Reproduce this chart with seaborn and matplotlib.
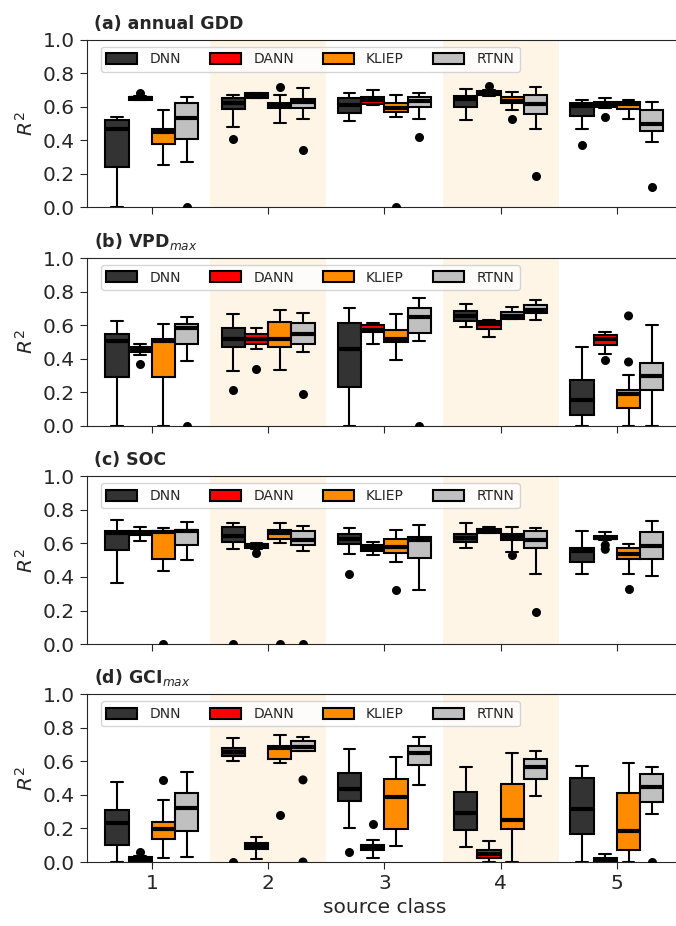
import pandas as pd
import numpy as np
import matplotlib
matplotlib.use('Agg')
import matplotlib.pyplot as plt
import seaborn as sns
from matplotlib.patches import Patch

# Categories
classes = ['1', '2', '3', '4', '5']
methods = ['DNN', 'DANN', 'KLIEP', 'RTNN']
colors = ['#333333', '#ff0000', '#ff8c00', '#c0c0c0']
panel_titles = ['(a) annual GDD', r'(b) VPD$_{max}$', '(c) SOC', r'(d) GCI$_{max}$']

# Estimated box values per source class: [whisker low, q1, median, q3, whisker high]
gdd_dnn = [[0.00, 0.24, 0.47, 0.52, 0.54], [0.48, 0.585, 0.62, 0.65, 0.67], [0.515, 0.565, 0.61, 0.65, 0.685],
           [0.52, 0.60, 0.645, 0.665, 0.705], [0.47, 0.545, 0.605, 0.625, 0.64]]
gdd_dann = [[0.64, 0.643, 0.65, 0.657, 0.665], [0.65, 0.655, 0.668, 0.68, 0.685], [0.61, 0.615, 0.64, 0.66, 0.70],
            [0.665, 0.672, 0.685, 0.695, 0.70], [0.595, 0.60, 0.615, 0.63, 0.655]]
gdd_kliep = [[0.255, 0.38, 0.45, 0.465, 0.58], [0.505, 0.59, 0.61, 0.625, 0.67], [0.54, 0.57, 0.595, 0.62, 0.67],
             [0.58, 0.62, 0.635, 0.66, 0.69], [0.53, 0.585, 0.615, 0.63, 0.64]]
gdd_rtnn = [[0.27, 0.405, 0.535, 0.62, 0.66], [0.53, 0.59, 0.63, 0.645, 0.71], [0.53, 0.60, 0.635, 0.66, 0.68],
            [0.47, 0.555, 0.615, 0.67, 0.72], [0.39, 0.455, 0.50, 0.58, 0.63]]

vpd_dnn = [[0.00, 0.29, 0.505, 0.545, 0.625], [0.325, 0.47, 0.52, 0.585, 0.665], [0.00, 0.23, 0.455, 0.615, 0.70],
           [0.59, 0.625, 0.655, 0.685, 0.725], [0.00, 0.065, 0.155, 0.27, 0.47]]
vpd_dann = [[0.42, 0.44, 0.452, 0.47, 0.49], [0.46, 0.49, 0.52, 0.545, 0.58], [0.485, 0.56, 0.572, 0.60, 0.61],
            [0.53, 0.578, 0.605, 0.625, 0.63], [0.43, 0.482, 0.515, 0.54, 0.557]]
vpd_kliep = [[0.00, 0.29, 0.505, 0.52, 0.605], [0.33, 0.47, 0.52, 0.62, 0.69], [0.39, 0.497, 0.52, 0.57, 0.665],
             [0.635, 0.638, 0.657, 0.68, 0.71], [0.00, 0.105, 0.19, 0.21, 0.30]]
vpd_rtnn = [[0.385, 0.487, 0.58, 0.607, 0.647], [0.44, 0.49, 0.545, 0.612, 0.675], [0.505, 0.55, 0.65, 0.705, 0.76],
            [0.63, 0.67, 0.69, 0.72, 0.75], [0.00, 0.21, 0.295, 0.375, 0.60]]

soc_dnn = [[0.365, 0.56, 0.665, 0.675, 0.74], [0.565, 0.61, 0.645, 0.70, 0.72], [0.54, 0.595, 0.628, 0.655, 0.69],
           [0.575, 0.61, 0.632, 0.655, 0.72], [0.415, 0.49, 0.555, 0.575, 0.675]]
soc_dann = [[0.615, 0.648, 0.665, 0.675, 0.70], [0.565, 0.575, 0.585, 0.595, 0.60], [0.53, 0.555, 0.575, 0.59, 0.61],
            [0.66, 0.665, 0.675, 0.688, 0.70], [0.62, 0.627, 0.635, 0.642, 0.67]]
soc_kliep = [[0.435, 0.505, 0.67, 0.675, 0.69], [0.60, 0.628, 0.665, 0.68, 0.72], [0.49, 0.545, 0.58, 0.625, 0.68],
             [0.55, 0.62, 0.638, 0.658, 0.70], [0.42, 0.505, 0.54, 0.575, 0.595]]
soc_rtnn = [[0.50, 0.59, 0.672, 0.68, 0.73], [0.555, 0.593, 0.618, 0.672, 0.705], [0.325, 0.515, 0.62, 0.64, 0.71],
            [0.415, 0.57, 0.622, 0.675, 0.69], [0.405, 0.505, 0.585, 0.67, 0.735]]

gci_dnn = [[0.00, 0.10, 0.23, 0.31, 0.48], [0.60, 0.632, 0.655, 0.68, 0.74], [0.20, 0.365, 0.435, 0.53, 0.675],
           [0.09, 0.19, 0.295, 0.415, 0.565], [0.00, 0.165, 0.315, 0.50, 0.575]]
gci_dann = [[0.00, 0.008, 0.02, 0.028, 0.035], [0.02, 0.08, 0.095, 0.115, 0.147], [0.026, 0.072, 0.087, 0.10, 0.13],
            [0.00, 0.022, 0.045, 0.072, 0.127], [0.00, 0.003, 0.01, 0.022, 0.05]]
gci_kliep = [[0.022, 0.135, 0.195, 0.24, 0.37], [0.59, 0.612, 0.68, 0.69, 0.755], [0.095, 0.195, 0.385, 0.495, 0.625],
             [0.00, 0.195, 0.25, 0.465, 0.65], [0.00, 0.072, 0.185, 0.41, 0.59]]
gci_rtnn = [[0.032, 0.185, 0.325, 0.41, 0.54], [0.66, 0.665, 0.685, 0.72, 0.745], [0.46, 0.58, 0.648, 0.69, 0.745],
            [0.395, 0.493, 0.565, 0.615, 0.66], [0.285, 0.36, 0.445, 0.525, 0.565]]

# Outliers: (source class, method, R2)
gdd_fliers = [('1', 'DANN', 0.68), ('1', 'RTNN', 0.0), ('2', 'DNN', 0.405), ('2', 'KLIEP', 0.715),
              ('2', 'RTNN', 0.34), ('3', 'KLIEP', 0.0), ('3', 'RTNN', 0.42), ('4', 'DANN', 0.725),
              ('4', 'KLIEP', 0.53), ('4', 'RTNN', 0.185), ('5', 'DNN', 0.37), ('5', 'DANN', 0.54),
              ('5', 'RTNN', 0.12)]
vpd_fliers = [('1', 'DANN', 0.37), ('1', 'RTNN', 0.0), ('2', 'DNN', 0.21), ('2', 'DANN', 0.34),
              ('2', 'RTNN', 0.19), ('3', 'RTNN', 0.0), ('5', 'DANN', 0.39), ('5', 'KLIEP', 0.655),
              ('5', 'KLIEP', 0.38)]
soc_fliers = [('1', 'KLIEP', 0.0), ('2', 'DNN', 0.0), ('2', 'DANN', 0.545), ('2', 'KLIEP', 0.0),
              ('2', 'RTNN', 0.0), ('3', 'DNN', 0.415), ('3', 'KLIEP', 0.325), ('4', 'KLIEP', 0.53),
              ('4', 'RTNN', 0.19), ('5', 'DANN', 0.59), ('5', 'DANN', 0.565), ('5', 'KLIEP', 0.33)]
gci_fliers = [('1', 'DANN', 0.06), ('1', 'KLIEP', 0.49), ('2', 'DNN', 0.0), ('2', 'KLIEP', 0.28),
              ('2', 'RTNN', 0.49), ('2', 'RTNN', 0.0), ('3', 'DNN', 0.06), ('3', 'DANN', 0.228),
              ('5', 'RTNN', 0.0)]

panels = [
    (dict(DNN=gdd_dnn, DANN=gdd_dann, KLIEP=gdd_kliep, RTNN=gdd_rtnn), gdd_fliers),
    (dict(DNN=vpd_dnn, DANN=vpd_dann, KLIEP=vpd_kliep, RTNN=vpd_rtnn), vpd_fliers),
    (dict(DNN=soc_dnn, DANN=soc_dann, KLIEP=soc_kliep, RTNN=soc_rtnn), soc_fliers),
    (dict(DNN=gci_dnn, DANN=gci_dann, KLIEP=gci_kliep, RTNN=gci_rtnn), gci_fliers),
]

sns.set_style('ticks')
plt.rcParams['font.family'] = ['DejaVu Sans']
palette = dict(zip(methods, colors))

fig = plt.figure(figsize=(6.76, 9.26), dpi=100)
bottoms = [0.7761, 0.5403, 0.3045, 0.0691]

for i, (boxes, fliers) in enumerate(panels):
    ax = fig.add_axes([0.1283, bottoms[i], 0.8806, 0.181])

    rows = []
    for m in methods:
        for c, vals in zip(classes, boxes[m]):
            for v in vals:
                rows.append({'cls': c, 'method': m, 'val': v})
    df = pd.DataFrame(rows)
    fl = pd.DataFrame(fliers, columns=['cls', 'method', 'val'])

    # shaded source classes 2 and 4
    for x0 in [0.5, 2.5]:
        ax.axvspan(x0, x0 + 1, color='#fef5e7', zorder=0, lw=0)

    sns.boxplot(data=df, x='cls', y='val', hue='method', order=classes, hue_order=methods,
                palette=palette, saturation=1, width=0.8, whis=(0, 100), showfliers=False,
                linecolor='black', linewidth=1.5,
                medianprops=dict(color='black', linewidth=3),
                legend=False, ax=ax)
    sns.stripplot(data=fl, x='cls', y='val', hue='method', order=classes, hue_order=methods,
                  palette={m: 'black' for m in methods}, dodge=True, jitter=False, size=6.5,
                  linewidth=0, legend=False, ax=ax, zorder=5)

    ax.set_xlim(-0.56, 4.56)
    ax.set_ylim(0, 1.0)
    ax.set_yticks([0, 0.2, 0.4, 0.6, 0.8, 1.0])
    ax.set_yticklabels(['0.0', '0.2', '0.4', '0.6', '0.8', '1.0'])
    ax.tick_params(labelsize=14.5, length=5)
    ax.set_ylabel('$R^2$', fontsize=14.5)
    ax.set_title(panel_titles[i], loc='left', x=0.013, fontsize=12.5, fontweight='bold', pad=8)
    if i < 3:
        ax.set_xticklabels([])
        ax.set_xlabel('')
    else:
        ax.set_xlabel('source class', fontsize=14.5)

    handles = [Patch(facecolor=col, edgecolor='black', linewidth=1.5) for col in colors]
    ax.legend(handles, methods, loc='upper left', bbox_to_anchor=(0.012, 1.0), ncol=4,
              fontsize=10, handlelength=2.2, handleheight=0.85, handletextpad=0.9,
              columnspacing=2.1)

plt.savefig('out.png', dpi=100)
plt.close()
